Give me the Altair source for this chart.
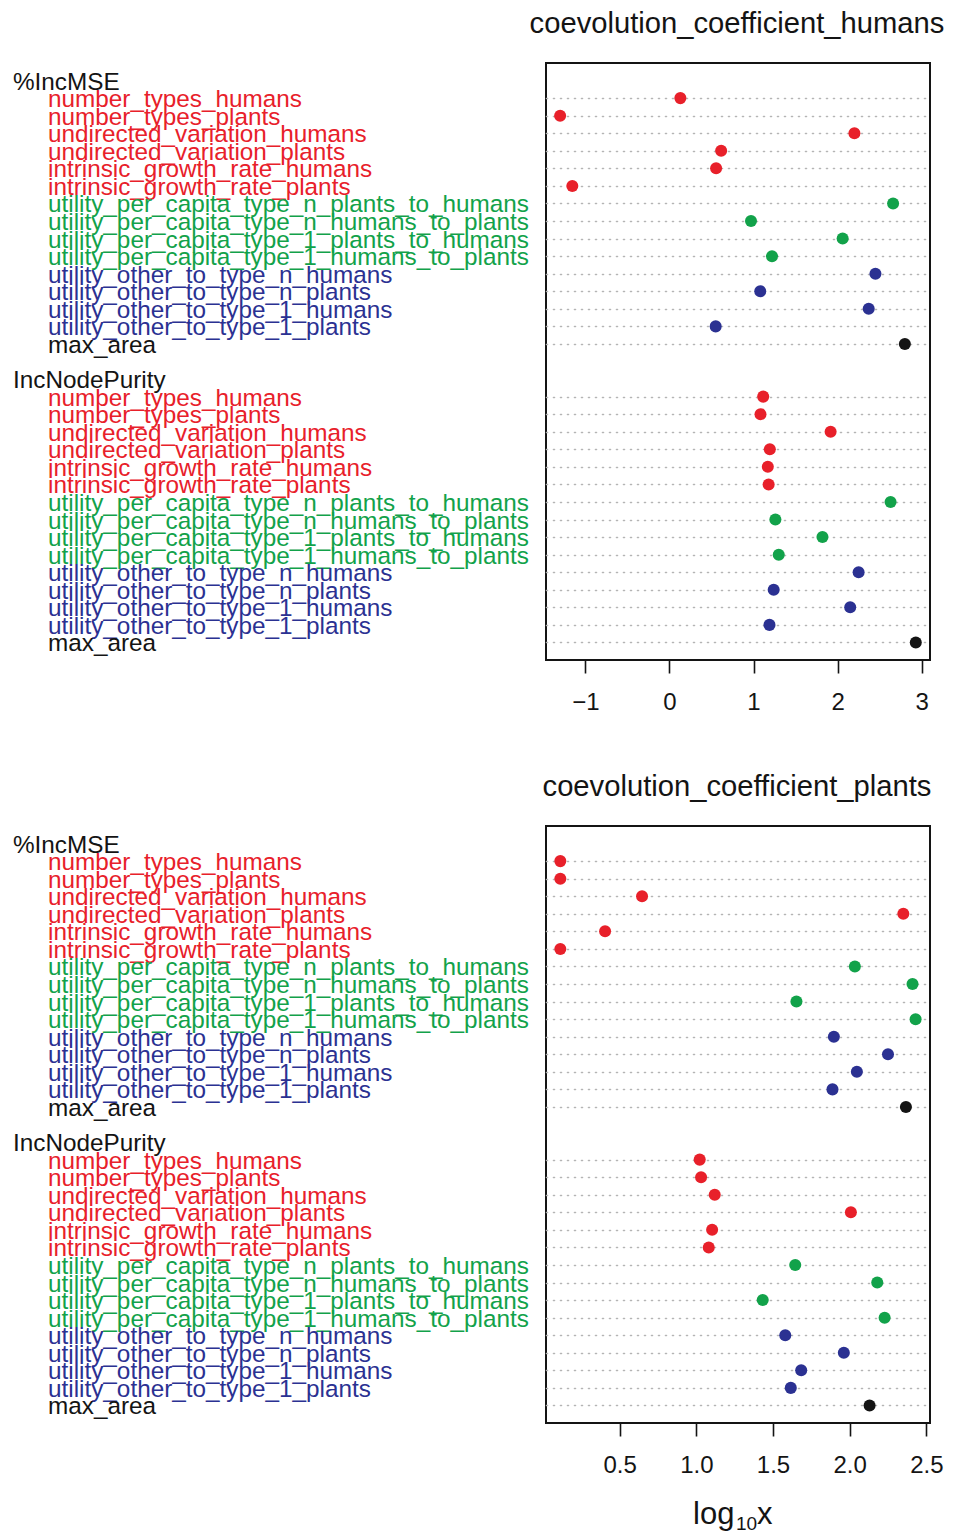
import altair as alt
import pandas as pd

labels = [
    "number_types_humans", "number_types_plants",
    "undirected_variation_humans", "undirected_variation_plants",
    "intrinsic_growth_rate_humans", "intrinsic_growth_rate_plants",
    "utility_per_capita_type_n_plants_to_humans",
    "utility_per_capita_type_n_humans_to_plants",
    "utility_per_capita_type_1_plants_to_humans",
    "utility_per_capita_type_1_humans_to_plants",
    "utility_other_to_type_n_humans", "utility_other_to_type_n_plants",
    "utility_other_to_type_1_humans", "utility_other_to_type_1_plants",
    "max_area",
]
groups = ["r"] * 6 + ["g"] * 4 + ["b"] * 4 + ["k"]
measures = ["%IncMSE", "IncNodePurity"]

humans_incmse = [0.13, -1.30, 2.20, 0.615, 0.555, -1.155, 2.66, 0.97, 2.06, 1.22, 2.45, 1.08, 2.37, 0.55, 2.80]
humans_incnode = [1.115, 1.083, 1.917, 1.194, 1.17, 1.18, 2.63, 1.26, 1.82, 1.30, 2.25, 1.24, 2.15, 1.19, 2.93]
plants_incmse = [0.113, 0.113, 0.646, 2.35, 0.405, 0.113, 2.034, 2.41, 1.653, 2.43, 1.897, 2.25, 2.047, 1.888, 2.367]
plants_incnode = [1.022, 1.031, 1.12, 2.008, 1.103, 1.081, 1.645, 2.18, 1.433, 2.228, 1.58, 1.962, 1.684, 1.616, 2.13]

humans_ticks = [-1, 0, 1, 2, 3]
plants_ticks = [0.5, 1.0, 1.5, 2.0, 2.5]
humans_domain = [-1.468, 3.099]
plants_domain = [0.0196, 2.524]

color_scale = alt.Scale(domain=["r", "g", "b", "k"],
                        range=["#E8202A", "#12A24A", "#2B3192", "#141414"])
FONT = "Liberation Sans"
INK = "#141414"
W, H = 384, 597
n = len(labels)


def build_frames(v1, v2):
    pts, txt = [], []
    # group 1 on top (slots 32..18, header 33), group 2 below (15..1, header 16)
    for gi, vals in enumerate([v1, v2]):
        top = 32 if gi == 0 else 15
        txt.append({"label": measures[gi], "slot": top + 1, "grp": "k", "head": 1})
        for i in range(n):
            s = top - i
            pts.append({"label": labels[i], "slot": s, "value": vals[i], "grp": groups[i]})
            txt.append({"label": labels[i], "slot": s, "grp": groups[i], "head": 0})
    return pd.DataFrame(pts), pd.DataFrame(txt)


def panel(title, v1, v2, domain, ticks, fmt, extra=None):
    pdf, tdf = build_frames(v1, v2)
    item_slots = sorted(pdf["slot"].tolist())
    yscale = alt.Scale(domain=[0, 34], nice=False, zero=False)
    xscale = alt.Scale(domain=domain, nice=False, zero=False)
    yaxis = alt.Axis(values=item_slots, labels=False, ticks=False, domain=False,
                     grid=True, gridDash=[1, 6], gridCap="round", gridWidth=1.6,
                     gridColor="#b4b4b4", title=None)
    xaxis = alt.Axis(values=ticks, format=fmt, grid=False, domain=False,
                     ticks=True, tickSize=13, tickWidth=1.6, tickColor=INK,
                     labelFontSize=24, labelFont=FONT, labelColor=INK,
                     labelPadding=17, title=None)
    pts = alt.Chart(pdf).mark_circle(size=145, opacity=1).encode(
        x=alt.X("value:Q", scale=xscale, axis=xaxis),
        y=alt.Y("slot:Q", scale=yscale, axis=yaxis),
        color=alt.Color("grp:N", scale=color_scale, legend=None),
    )
    items = alt.Chart(tdf[tdf["head"] == 0]).mark_text(
        align="left", baseline="alphabetic", fontSize=24.3, font=FONT, dy=9
    ).encode(
        x=alt.value(-498),
        y=alt.Y("slot:Q", scale=yscale, axis=yaxis),
        text="label:N",
        color=alt.Color("grp:N", scale=color_scale, legend=None),
    )
    heads = alt.Chart(tdf[tdf["head"] == 1]).mark_text(
        align="left", baseline="alphabetic", fontSize=24.3, font=FONT, dy=9,
        color=INK
    ).encode(
        x=alt.value(-533),
        y=alt.Y("slot:Q", scale=yscale, axis=yaxis),
        text="label:N",
    )
    ttl = alt.Chart(pd.DataFrame({"t": [title]})).mark_text(
        align="center", baseline="alphabetic", fontSize=29.2, font=FONT, color=INK
    ).encode(x=alt.value(W / 2 - 1), y=alt.value(-30), text="t:N")
    layers = [pts, items, heads, ttl]
    if extra is not None:
        layers += extra
    return alt.layer(*layers).properties(width=W, height=H)


LOGY = 698
log_part = alt.Chart(pd.DataFrame({"t": ["log"]})).mark_text(
    align="left", baseline="alphabetic", fontSize=31, font=FONT, color=INK
).encode(x=alt.value(147), y=alt.value(LOGY), text="t:N")
sub_part = alt.Chart(pd.DataFrame({"t": ["10"]})).mark_text(
    align="left", baseline="alphabetic", fontSize=19, font=FONT, color=INK
).encode(x=alt.value(190), y=alt.value(LOGY + 6), text="t:N")
x_part = alt.Chart(pd.DataFrame({"t": ["x"]})).mark_text(
    align="left", baseline="alphabetic", fontSize=31, font=FONT, color=INK
).encode(x=alt.value(211), y=alt.value(LOGY), text="t:N")

top = panel("coevolution_coefficient_humans", humans_incmse, humans_incnode,
            humans_domain, humans_ticks, "d")
bottom = panel("coevolution_coefficient_plants", plants_incmse, plants_incnode,
               plants_domain, plants_ticks, ".1f",
               extra=[log_part, sub_part, x_part])

chart = alt.vconcat(top, bottom, spacing=57).properties(
    padding={"left": 4, "top": 1, "right": 0, "bottom": 0},
    background="white",
).configure_view(stroke=INK, strokeWidth=2)

chart.save("out.html", embed_options={"renderer": "svg", "actions": False})
